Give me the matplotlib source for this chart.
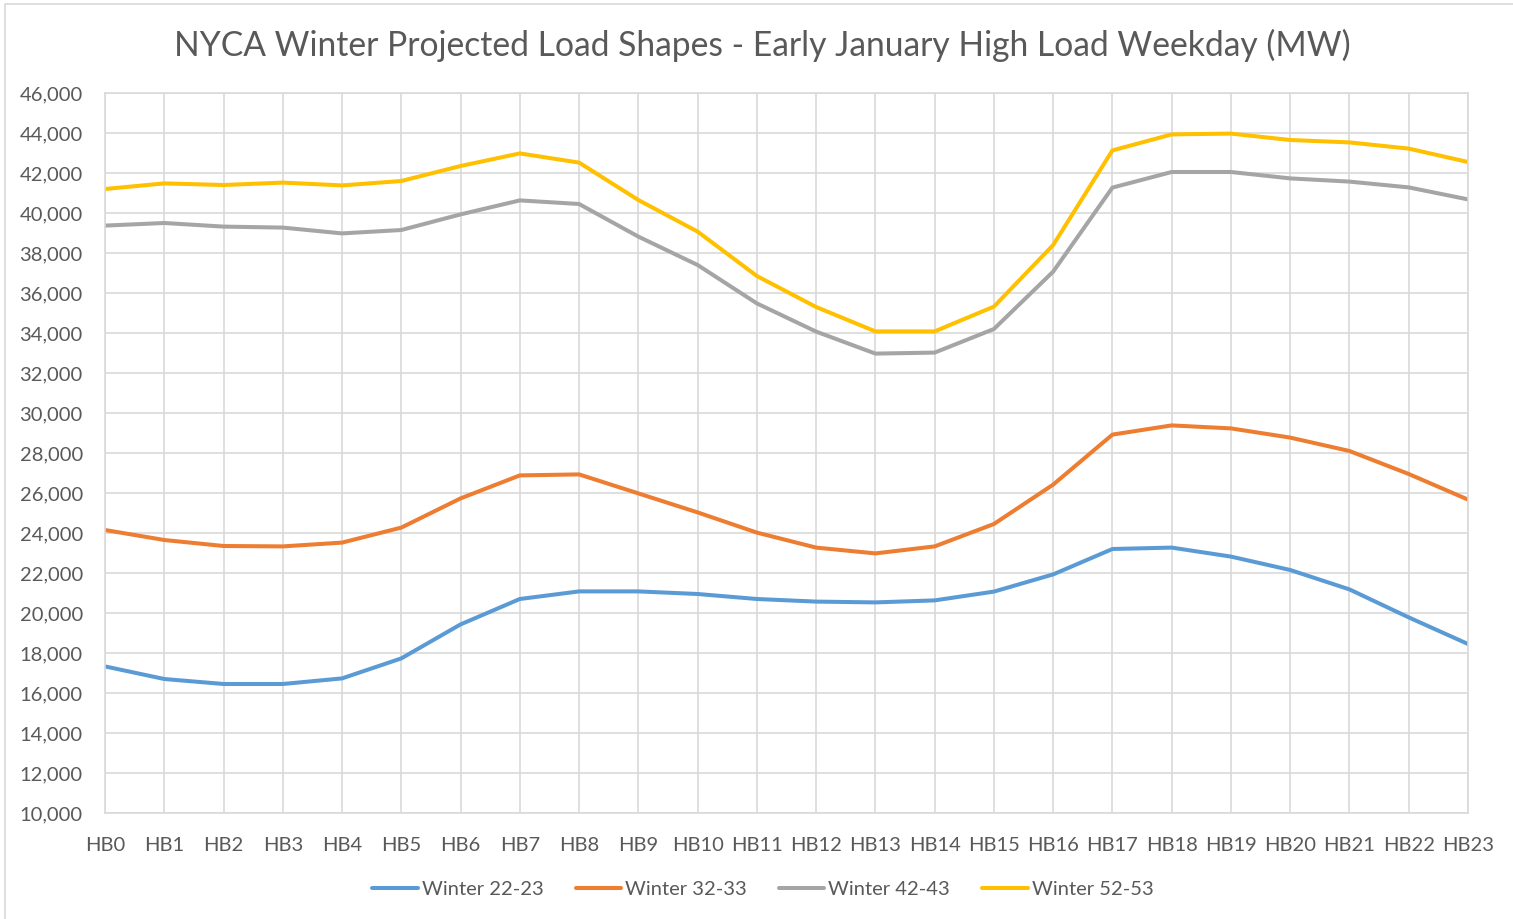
import matplotlib
matplotlib.use("Agg")
import matplotlib.pyplot as plt
from matplotlib.patches import Rectangle
from matplotlib.ticker import FuncFormatter, MultipleLocator

plt.rcParams['font.family'] = ['Lato', 'DejaVu Sans']

hours = [f"HB{i}" for i in range(24)]
series_names = ["Winter 22-23", "Winter 32-33", "Winter 42-43", "Winter 52-53"]

winter_22_23 = [17330, 16700, 16450, 16450, 16730, 17730, 19430, 20700, 21080, 21080,
                20950, 20700, 20570, 20530, 20630, 21070, 21930, 23200, 23270, 22820,
                22150, 21180, 19780, 18450]
winter_32_33 = [24150, 23650, 23350, 23330, 23520, 24270, 25730, 26880, 26930, 25980,
                25030, 24020, 23270, 22980, 23330, 24450, 26420, 28920, 29380, 29230,
                28770, 28100, 26950, 25670]
winter_42_43 = [39370, 39500, 39320, 39270, 38980, 39150, 39930, 40630, 40450, 38820,
                37400, 35480, 34070, 32970, 33020, 34200, 37070, 41270, 42050, 42050,
                41730, 41570, 41280, 40680]
winter_52_53 = [41200, 41480, 41400, 41520, 41380, 41600, 42350, 42980, 42520, 40650,
                39070, 36850, 35300, 34080, 34080, 35320, 38400, 43130, 43930, 43970,
                43650, 43530, 43220, 42550]

colors = ["#5B9BD5", "#ED7D31", "#A5A5A5", "#FFC000"]
text_color = "#595959"
grid_color = "#D9D9D9"

W, H = 1513, 919
fig = plt.figure(figsize=(W / 100, H / 100), dpi=100)

# chart border (cropped at right/bottom)
fig.patches.append(Rectangle((5 / W, -0.5), 2, 1.5 - 4 / H, transform=fig.transFigure,
                             fill=False, edgecolor=grid_color, linewidth=1.2))

ax = fig.add_axes([105 / W, 1 - 813 / H, (1468 - 105) / W, (813 - 93) / H])

x = list(range(len(hours)))
for vals, name, c in zip([winter_22_23, winter_32_33, winter_42_43, winter_52_53],
                         series_names, colors):
    ax.plot(x, vals, color=c, linewidth=2.9, label=name, solid_capstyle='round',
            solid_joinstyle='round')

ax.set_xlim(0, 23)
ax.set_ylim(10000, 46000)
ax.yaxis.set_major_locator(MultipleLocator(2000))
ax.yaxis.set_major_formatter(FuncFormatter(lambda v, p: f"{int(v):,}"))
ax.set_xticks(x)
ax.set_xticklabels(hours)

ax.grid(True, color=grid_color, linewidth=1.2)
ax.set_axisbelow(True)
for s in ax.spines.values():
    s.set_color(grid_color)
    s.set_linewidth(1.2)
ax.tick_params(axis='both', length=0, colors=text_color, labelsize=14.5)
ax.tick_params(axis='y', pad=16)
ax.tick_params(axis='x', pad=17)

fig.text(762 / W, 1 - 45 / H, "NYCA Winter Projected Load Shapes - Early January High Load Weekday (MW)",
         ha='center', va='center', fontsize=24.2, color=text_color)

leg = fig.legend(loc='center', bbox_to_anchor=(763 / W, 1 - 889 / H), ncol=4, frameon=False,
                 fontsize=14.5, handlelength=2.25, handletextpad=0.2, columnspacing=1.6,
                 labelcolor=text_color)

fig.savefig("out.png", dpi=100)
